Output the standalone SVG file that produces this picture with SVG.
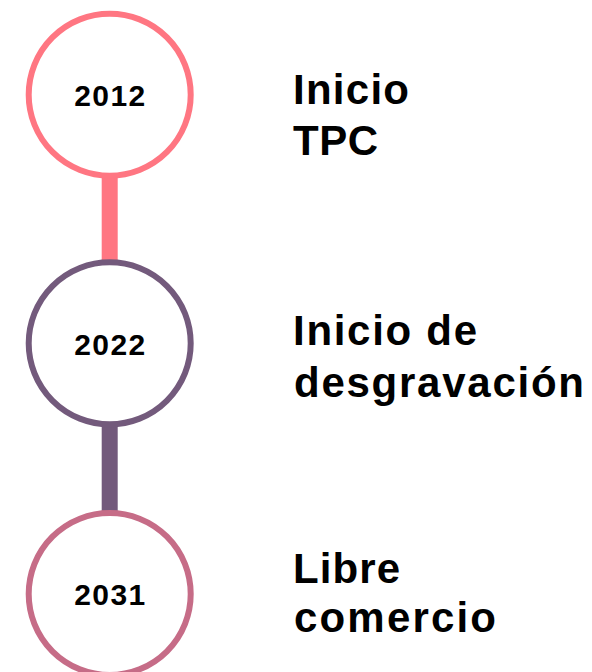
<svg xmlns="http://www.w3.org/2000/svg" width="592" height="672" viewBox="0 0 592 672">
<style>
.ring{fill:#fff;stroke-width:6}
.year{font-family:"Liberation Sans",Arial,sans-serif;font-weight:700;font-size:30px;fill:#000;text-anchor:middle}
.lbl{font-family:"Liberation Sans",Arial,sans-serif;font-weight:700;font-size:42px;fill:#000}
</style>
<rect width="592" height="672" fill="#fff"/>
<g id="connectors">
<rect x="101.7" y="176" width="16" height="86" fill="#FF7682"/>
<rect x="101.7" y="424" width="16" height="88" fill="#735A7C"/>
</g>
<g id="node-2012">
<circle class="ring" cx="109.7" cy="94.7" r="81" stroke="#FF7682"/>
<text class="year" x="109.7" y="106" textLength="71" lengthAdjust="spacing">2012</text>
<text class="lbl" x="293" y="104" textLength="116" lengthAdjust="spacing">Inicio</text>
<text class="lbl" x="293" y="155" textLength="85" lengthAdjust="spacing">TPC</text>
</g>
<g id="node-2022">
<circle class="ring" cx="109.7" cy="343.3" r="81" stroke="#735A7C"/>
<text class="year" x="109.7" y="355" textLength="71" lengthAdjust="spacing">2022</text>
<text class="lbl" x="293" y="345" textLength="184" lengthAdjust="spacing">Inicio de</text>
<text class="lbl" x="294" y="396.5" textLength="290" lengthAdjust="spacing">desgravación</text>
</g>
<g id="node-2031">
<circle class="ring" cx="109.7" cy="594" r="81" stroke="#C66C87"/>
<text class="year" x="109.7" y="604.5" textLength="71" lengthAdjust="spacing">2031</text>
<text class="lbl" x="293" y="582.5" textLength="107" lengthAdjust="spacing">Libre</text>
<text class="lbl" x="294" y="631.5" textLength="202" lengthAdjust="spacing">comercio</text>
</g>
</svg>
